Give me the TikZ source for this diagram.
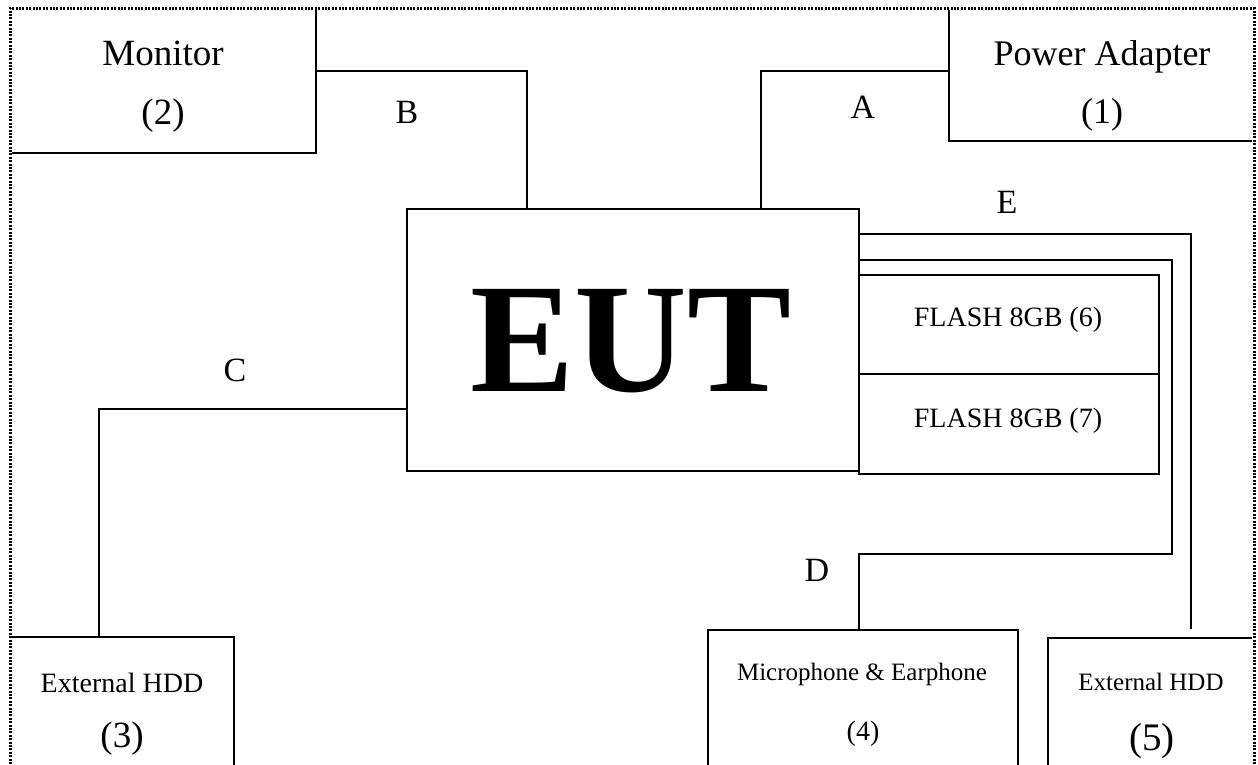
\documentclass[tikz,border=0pt]{standalone}
\usepackage{fontspec}
\setmainfont{Liberation Serif}
\newcommand\fsz[1]{\fontsize{#1}{#1}\selectfont}
\tikzset{
  box/.style={draw, line width=1.6pt, inner sep=0pt, outer sep=0pt, anchor=north west, fill=white},
  wire/.style={line width=1.6pt},
  txt/.style={inner sep=0pt, anchor=base},
  frame/.style={line width=3pt, dash pattern=on 2pt off 1.4pt},
}
\begin{document}
\begin{tikzpicture}[x=1pt,y=-1pt]
\useasboundingbox (0,0) rectangle (1258,764);
\clip (0,0) rectangle (1258,764);

% boxes
\node[box, minimum width=306pt, minimum height=144pt] (monitor) at (10,9) {};
\node[box, minimum width=304pt, minimum height=132pt] (power) at (949,9) {};
\node[box, minimum width=452pt, minimum height=262pt] (eut) at (407,209) {};
\node[box, minimum width=300pt, minimum height=99pt] (flash6) at (859,275) {};
\node[box, minimum width=300pt, minimum height=100pt] (flash7) at (859,374) {};
\node[box, minimum width=224pt, minimum height=200pt] (hdd3) at (10,637) {};
\node[box, minimum width=310pt, minimum height=200pt] (mic) at (708,630) {};
\node[box, minimum width=205pt, minimum height=200pt] (hdd5) at (1048,638) {};

% connectors
\draw[wire] ([yshift=-62pt]power.north west) -| ([xshift=354pt]eut.north west);
\draw[wire] ([yshift=-62pt]monitor.north east) -| ([xshift=120pt]eut.north west);
\draw[wire] ([yshift=-200pt]eut.north west) -| ([xshift=89pt]hdd3.north west);
\coordinate (eend) at ([xshift=143pt,yshift=9pt]hdd5.north west);
\draw[wire] ([yshift=-25pt]eut.north east) -| (eend);
\coordinate (dcorner) at (1172,554);
\draw[wire] ([yshift=-51pt]eut.north east) -| (dcorner) -| ([xshift=151pt]mic.north west);

% outer dotted frame
\draw[white, line width=3.6pt] (10,900) -- (10,8) -- (1254,8) -- (1254,900);
\draw[frame] (10,900) -- (10,8) -- (1254,8) -- (1254,900);

% texts
\node[txt] (t2a) at (163,65) {\fsz{37}Monitor};
\node[txt] (t2b) at (163,124) {\fsz{37}(2)};
\node[txt] (t1a) at (1102,65) {\fsz{36}Power Adapter};
\node[txt] (t1b) at (1102,123) {\fsz{36}(1)};
\node[txt] (euttxt) at (631,391) {\fsz{156}\bfseries EUT};
\node[txt] (t6) at (1008,326) {\fsz{28}FLASH 8GB (6)};
\node[txt] (t7) at (1008,427) {\fsz{28}FLASH 8GB (7)};
\node[txt] (t3a) at (122,692) {\fsz{28}External HDD};
\node[txt] (t3b) at (122,747) {\fsz{37}(3)};
\node[txt] (t4a) at (862,680) {\fsz{25}Microphone \& Earphone};
\node[txt] (t4b) at (863,740) {\fsz{28}(4)};
\node[txt] (t5a) at (1151,690) {\fsz{25}External HDD};
\node[txt] (t5b) at (1152,750) {\fsz{39}(5)};

% connector labels
\node[txt] (la) at (863,118) {\fsz{34}A};
\node[txt] (lb) at (407,123) {\fsz{34}B};
\node[txt] (lc) at (235,381) {\fsz{34}C};
\node[txt] (ld) at (817,581) {\fsz{34}D};
\node[txt] (le) at (1007,213) {\fsz{34}E};
\end{tikzpicture}
\end{document}
